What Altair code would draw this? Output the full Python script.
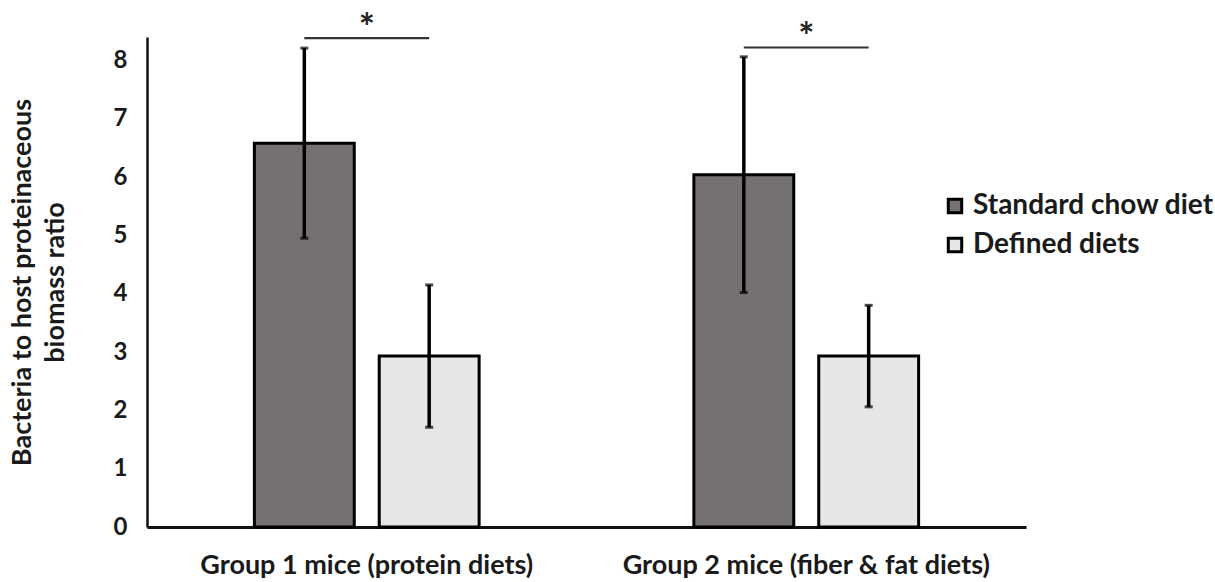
import altair as alt
import pandas as pd

groups = ["Group 1 mice (protein diets)", "Group 2 mice (fiber & fat diets)"]
diets = ["Standard chow diet", "Defined diets"]
standard_means = [6.58, 6.04]
standard_errs = [1.63, 2.02]
defined_means = [2.93, 2.93]
defined_errs = [1.22, 0.87]
bracket_levels = [8.38, 8.22]
star_levels = [8.66, 8.50]
colors = ["#767171", "#E7E6E6"]

rows = []
for i, g in enumerate(groups):
    rows.append(dict(group=g, diet=diets[0], mean=standard_means[i],
                     lo=standard_means[i] - standard_errs[i], hi=standard_means[i] + standard_errs[i]))
    rows.append(dict(group=g, diet=diets[1], mean=defined_means[i],
                     lo=defined_means[i] - defined_errs[i], hi=defined_means[i] + defined_errs[i]))
df = pd.DataFrame(rows)

br_rows = []
for i, g in enumerate(groups):
    for d in diets:
        br_rows.append(dict(group=g, diet=d, level=bracket_levels[i]))
br = pd.DataFrame(br_rows)
stars = pd.DataFrame(dict(group=groups, level=star_levels, txt=["*", "*"]))

FONT = "Lato"
TXT = "#1a1a1a"

x_enc = alt.X("group:N", sort=groups, title=None,
              scale=alt.Scale(paddingInner=0, paddingOuter=0),
              axis=alt.Axis(labelAngle=0, labelFontSize=27, labelFontWeight="bold",
                            labelColor=TXT, labelPadding=25, ticks=False, labelLimit=0,
                            domainColor="#111", domainWidth=3))
xo_enc = alt.XOffset("diet:N", sort=diets,
                     scale=alt.Scale(paddingInner=0.2, paddingOuter=0.86))
y_scale = alt.Scale(domain=[0, 8.4], nice=False)

bars = alt.Chart(df).mark_bar(stroke="black", strokeWidth=3).encode(
    x=x_enc,
    xOffset=xo_enc,
    y=alt.Y("mean:Q", scale=y_scale,
            title=["Bacteria to host proteinaceous", "biomass ratio"],
            axis=alt.Axis(values=list(range(9)), format="d", grid=False, ticks=False,
                          labelFontSize=24, labelFontWeight="bold", labelColor=TXT,
                          labelPadding=20, domainColor="#111", domainWidth=2.5,
                          titleFontSize=27, titleFontWeight="bold", titleColor=TXT,
                          titleAngle=-90, titleX=-125, titleY=245,
                          titleAlign="center", titleBaseline="middle",
                          titleLineHeight=33)),
    color=alt.Color("diet:N", sort=diets,
                    scale=alt.Scale(domain=diets, range=colors),
                    legend=alt.Legend(title=None, orient="none", legendX=794, legendY=155,
                                      symbolType="square", symbolSize=180,
                                      symbolStrokeColor="black", symbolStrokeWidth=3,
                                      labelFontSize=28, labelFontWeight="bold", labelLimit=0,
                                      labelColor=TXT, rowPadding=11, labelOffset=4)),
)

err = alt.Chart(df).mark_rule(color="black", strokeWidth=3.5).encode(
    x=alt.X("group:N", sort=groups), xOffset=alt.XOffset("diet:N", sort=diets),
    y=alt.Y("lo:Q", scale=y_scale), y2="hi:Q")

cap_lo = alt.Chart(df).mark_tick(color="black", size=8, thickness=3).encode(
    x=alt.X("group:N", sort=groups), xOffset=alt.XOffset("diet:N", sort=diets),
    y=alt.Y("lo:Q", scale=y_scale))
cap_hi = alt.Chart(df).mark_tick(color="black", size=8, thickness=3).encode(
    x=alt.X("group:N", sort=groups), xOffset=alt.XOffset("diet:N", sort=diets),
    y=alt.Y("hi:Q", scale=y_scale))

bracket = alt.Chart(br).mark_line(color="#333", strokeWidth=2.2, clip=False).encode(
    x=alt.X("group:N", sort=groups), xOffset=alt.XOffset("diet:N", sort=diets),
    y=alt.Y("level:Q", scale=y_scale), detail="group:N")

star = alt.Chart(stars).mark_text(fontSize=38, font=FONT, fontWeight="bold", color="#222",
                                  baseline="middle", dy=8).encode(
    x=alt.X("group:N", sort=groups), y=alt.Y("level:Q", scale=y_scale), text="txt:N")

chart = alt.layer(bars, err, cap_lo, cap_hi, bracket, star).properties(
    width=879, height=490,
    autosize=alt.AutoSizeParams(type="none"),
    padding={"left": 147, "top": 37, "right": 189, "bottom": 55},
    background="white",
).configure(font=FONT).configure_view(strokeWidth=0, stroke="transparent")

chart.save("out.html", embed_options={"renderer": "svg", "actions": False})
